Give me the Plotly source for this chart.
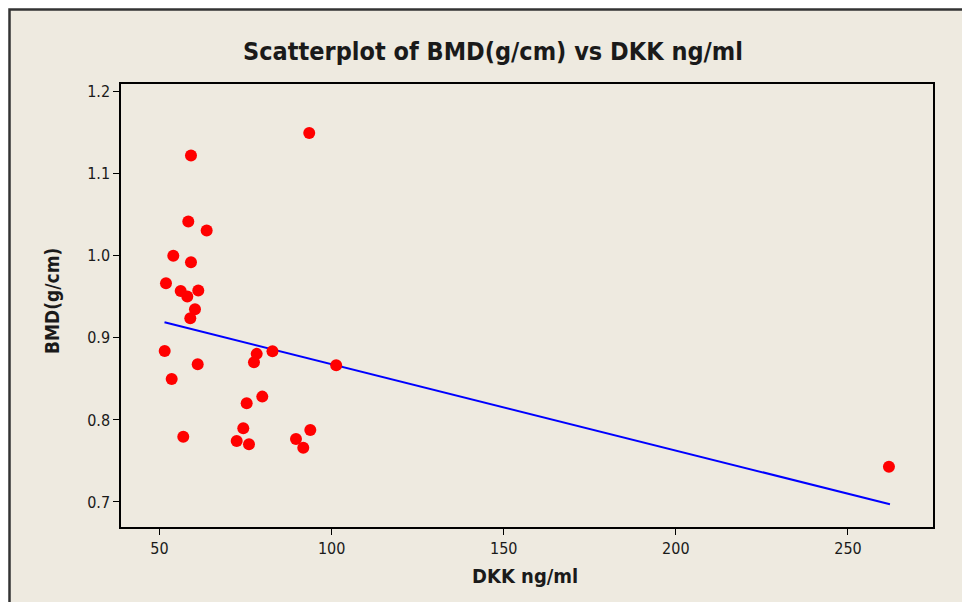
import plotly.graph_objects as go

# Data
dkk = [93.5, 59.15, 58.37, 63.71, 54.01, 59.15, 51.89, 56.16, 61.27, 58.08,
       60.31, 58.95, 51.51, 82.82, 61.1, 101.33, 78.24, 77.45, 53.54, 75.33,
       79.86, 74.34, 72.43, 76.0, 56.91, 89.65, 91.77, 93.81, 261.9]
bmd = [1.1496, 1.1223, 1.0418, 1.0309, 1.0, 0.9923, 0.9667, 0.957, 0.9577, 0.9504,
       0.935, 0.924, 0.8841, 0.8838, 0.8679, 0.8665, 0.8805, 0.8704, 0.85, 0.8204,
       0.8284, 0.7899, 0.7744, 0.7704, 0.7796, 0.7768, 0.7662, 0.7878, 0.743]
fit_x = [51.45, 262.2]
fit_y = [0.9191, 0.6972]

x_ticks = [50, 100, 150, 200, 250]
y_ticks = [0.7, 0.8, 0.9, 1.0, 1.1, 1.2]
y_tick_text = ["0.7", "0.8", "0.9", "1.0", "1.1", "1.2"]

W, H = 962, 602
L, R, T, B = 121, 29, 84, 75
PW, PH = W - L - R, H - T - B


def px(x):
    return (x - L) / PW


def py(y):
    return (H - B - y) / PH


BEIGE = "#EEEAE0"
TXT = "#1a1a1a"
FONT = "DejaVu Sans"
CFONT = "DejaVu Sans Condensed, DejaVu Sans"

fig = go.Figure()
fig.add_trace(go.Scatter(x=fit_x, y=fit_y, mode="lines",
                         line=dict(color="#0000FF", width=2), hoverinfo="skip"))
fig.add_trace(go.Scatter(x=dkk, y=bmd, mode="markers",
                         marker=dict(color="#FF0000", size=12, symbol="circle",
                                     line=dict(width=0))))

fig.update_layout(
    width=W, height=H,
    margin=dict(l=L, r=R, t=T, b=B, pad=0),
    paper_bgcolor="white",
    plot_bgcolor="white",
    showlegend=False,
    font=dict(family=FONT, color=TXT),
    title=dict(text="<b>Scatterplot of BMD(g/cm) vs DKK ng/ml</b>",
               x=(493) / W, xanchor="center", y=1 - 51 / H, yanchor="middle",
               font=dict(family=CFONT, size=25, color=TXT)),
    xaxis=dict(range=[38.82, 274.7], tickvals=x_ticks, showgrid=False, zeroline=False,
               showline=True, linecolor="black", linewidth=1.5, mirror=True,
               ticks="outside", ticklen=6, tickcolor="black", tickwidth=1,
               tickfont=dict(size=16, color=TXT, family=CFONT)),
    yaxis=dict(range=[0.6695, 1.2094], tickvals=y_ticks, ticktext=y_tick_text,
               showgrid=False, zeroline=False,
               showline=True, linecolor="black", linewidth=1.5, mirror=True,
               ticks="outside", ticklen=6, tickcolor="black", tickwidth=1,
               tickfont=dict(size=16, color=TXT, family=CFONT)),
    shapes=[
        dict(type="rect", xref="paper", yref="paper", layer="below",
             x0=px(9.5), x1=px(1000), y0=py(700), y1=py(9.5),
             fillcolor=BEIGE, line=dict(color="#333333", width=2.5)),
    ],
    annotations=[
        dict(text="<b>DKK ng/ml</b>", xref="paper", yref="paper",
             x=px(525), y=py(576), xanchor="center", yanchor="middle",
             showarrow=False, font=dict(family=CFONT, size=20, color=TXT)),
        dict(text="<b>BMD(g/cm)</b>", xref="paper", yref="paper",
             x=px(52), y=py(301), xanchor="center", yanchor="middle",
             textangle=-90, showarrow=False,
             font=dict(family=CFONT, size=19, color=TXT)),
    ],
)

fig.write_html("out.html", config={"displayModeBar": False},
               post_script="document.body.style.margin='0px';document.body.style.overflow='hidden';")
